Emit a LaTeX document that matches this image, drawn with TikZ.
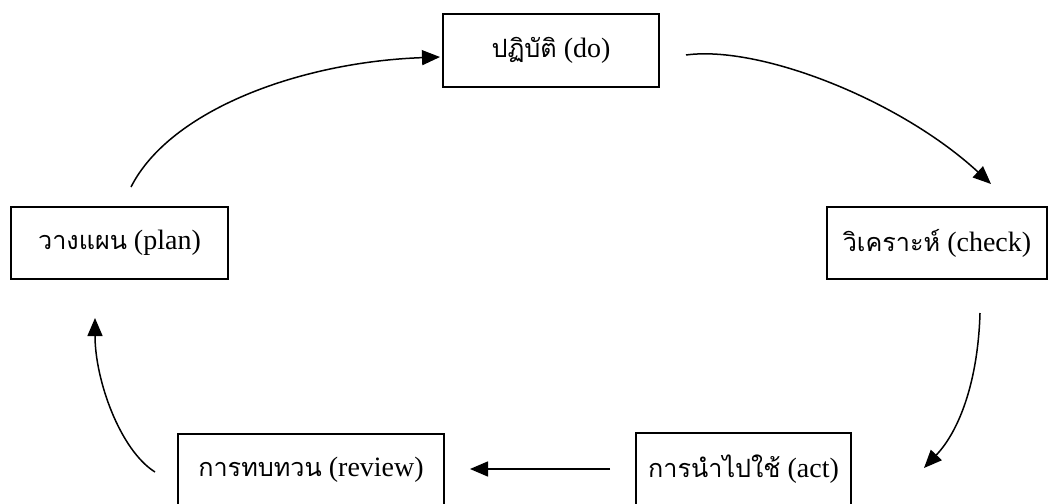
\documentclass[tikz,border=0pt]{standalone}
\usepackage{fontspec}
\setmainfont{Liberation Serif}
\newfontfamily\thaifont[Script=Thai,Scale=0.9]{Loma}
\usetikzlibrary{arrows.meta}
\newcommand{\thtxt}[1]{{\thaifont #1}}
\tikzset{
  box/.style={draw, line width=1.5pt, inner sep=0pt, font=\fontsize{28}{32}\selectfont},
  flow/.style={line width=1.5pt, -{Triangle[length=18pt,width=15pt]}},
}
\begin{document}
\begin{tikzpicture}[x=1pt,y=-1pt]
\clip (0,0) rectangle (1056,503);
\fill[white] (0,0) rectangle (1056,503);
\node[box, minimum width=216pt, minimum height=73pt] (do) at (551,50.5) {\thtxt{ปฏิบัติ} (do)};
\node[box, minimum width=217pt, minimum height=72pt] (plan) at (119.5,243) {\thtxt{วางแผน} (plan)};
\node[box, minimum width=220pt, minimum height=72pt] (check) at (937,243) {\thtxt{วิเคราะห์} (check)};
\node[box, minimum width=266pt, minimum height=72pt] (review) at (311,470) {\thtxt{การทบทวน} (review)};
\node[box, minimum width=215pt, minimum height=72pt] (act) at (743.5,469) {\thtxt{การนำไปใช้} (act)};
\coordinate (p1) at (131,187);
\coordinate (p2) at (440,57);
\coordinate (d1) at (686,55);
\coordinate (d2) at (991,184);
\coordinate (c1) at (980,313);
\coordinate (c2) at (924,468);
\coordinate (a1) at (610,469);
\coordinate (a2) at (470,469);
\coordinate (r1) at (155,472);
\coordinate (r2) at (95,318);
\draw[flow] (p1) .. controls (170,110) and (300,62) .. (p2);
\draw[flow] (d1) .. controls (760,45) and (900,100) .. (d2);
\draw[flow] (c1) .. controls (978,380) and (960,430) .. (c2);
\draw[flow] (a1) -- (a2);
\draw[flow] (r1) .. controls (120,450) and (95,380) .. (r2);
\end{tikzpicture}
\end{document}
